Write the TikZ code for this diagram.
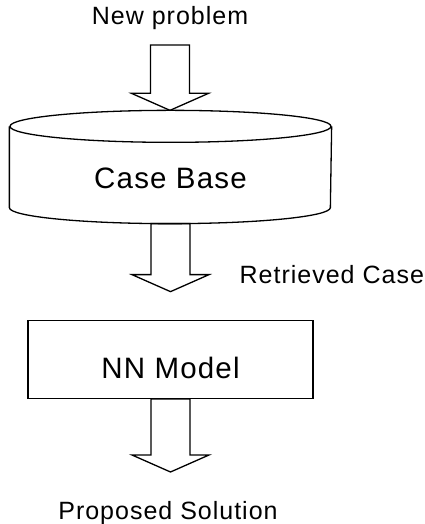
\documentclass[tikz,border=0pt]{standalone}
\usepackage{fontspec}
\newfontfamily\diagfont{Liberation Sans}[LetterSpace=4]
\usetikzlibrary{positioning,calc}

% hollow block arrow from #1 down to the tip at #2
\newcommand{\fatarrow}[2]{%
  \draw let \p1=(#1), \p2=(#2) in
    (\x1-19.5pt,\y1) -- (\x1-19.5pt,\y2+17pt) -- (\x1-38.5pt,\y2+17pt)
    -- (\x1,\y2) -- (\x1+38.5pt,\y2+17pt) -- (\x1+19.5pt,\y2+17pt)
    -- (\x1+19.5pt,\y1) -- cycle;}

\begin{document}
\begin{tikzpicture}[x=1pt,y=1pt,line width=1.3pt,
    lbl/.style={font=\diagfont\fontsize{25}{30}\selectfont,inner sep=0pt},
    box/.style={font=\diagfont\fontsize{29.5}{34}\selectfont,inner sep=0pt}]
  \useasboundingbox (0,0) rectangle (424,524);
  % case base and model
  \node[box,minimum width=321pt,text height=78pt,text depth=34pt] (casebase) at (170.5,357) {Case Base};
  \node[box,draw,minimum width=285pt,text height=58pt,text depth=20pt,below=96pt of casebase] (nnmodel) {NN Model};
  % labels
  \node[lbl,anchor=base] (newprob) at (170,499) {New problem};
  \node[lbl,anchor=base west] (retcase) at (239,240) {Retrieved Case};
  \node[lbl,anchor=base] (propsol) at (168,5) {Proposed Solution};
  % cylinder outline
  \draw ([yshift=-16pt]casebase.north) ellipse [x radius=160.5pt, y radius=16pt];
  \draw ([yshift=-16pt]casebase.north west) -- ([yshift=16pt]casebase.south west)
    arc [start angle=180, end angle=360, x radius=160.5pt, y radius=16pt]
    -- ([yshift=-16pt]casebase.north east);
  % arrows
  \fatarrow{[yshift=-20pt]newprob.base}{casebase.north}
  \fatarrow{casebase.south}{[yshift=28pt]nnmodel.north}
  \fatarrow{nnmodel.south}{[yshift=47pt]propsol.base}
\end{tikzpicture}
\end{document}
